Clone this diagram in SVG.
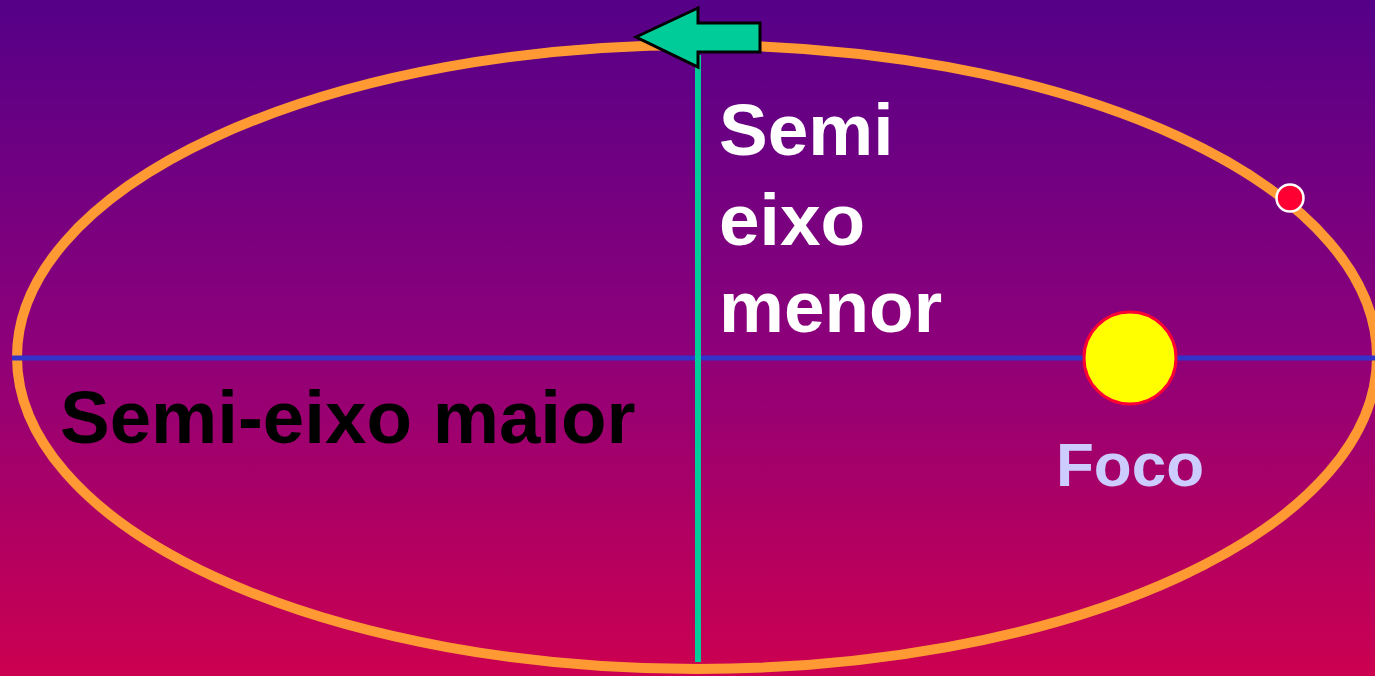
<svg xmlns="http://www.w3.org/2000/svg" width="1375" height="676" viewBox="0 0 1375 676">
  <defs>
    <linearGradient id="bg" x1="0" y1="0" x2="0" y2="1">
      <stop offset="0" stop-color="#550088"/>
      <stop offset="0.5" stop-color="#8C007A"/>
      <stop offset="1" stop-color="#CC0050"/>
    </linearGradient>
    <style>
      .lbl { font-family: "Liberation Sans", Arial, sans-serif; font-weight: bold; }
    </style>
  </defs>
  <rect x="0" y="0" width="1375" height="676" fill="url(#bg)"/>
  <g id="orbit">
    <ellipse cx="697" cy="357" rx="680" ry="312" fill="none" stroke="#FF9933" stroke-width="10"/>
  </g>
  <g id="connectors">
    <line x1="12" y1="358" x2="1375" y2="358" stroke="#3333CC" stroke-width="5"/>
    <line x1="698" y1="55" x2="698" y2="662" stroke="#00CC99" stroke-width="6"/>
  </g>
  <g id="sun">
    <circle cx="1130" cy="358" r="46" fill="#FFFF00" stroke="#FF0033" stroke-width="3"/>
  </g>
  <g id="planet">
    <circle cx="1290" cy="198" r="13.5" fill="#FF0033" stroke="#FFFFFF" stroke-width="2.5"/>
  </g>
  <g id="arrow">
    <polygon points="636,37 698,8 698,23 760,23 760,52 698,52 698,67" fill="#00CC99" stroke="#000000" stroke-width="3" stroke-linejoin="miter"/>
  </g>
  <g id="label-minor">
    <text class="lbl" x="719" y="155" font-size="73" fill="#FFFFFF">Semi</text>
    <text class="lbl" x="719" y="245" font-size="73" fill="#FFFFFF">eixo</text>
    <text class="lbl" x="719" y="332" font-size="73" fill="#FFFFFF">menor</text>
  </g>
  <g id="label-major">
    <text class="lbl" x="60" y="443" font-size="74.5" fill="#000000">Semi-eixo maior</text>
  </g>
  <g id="label-focus">
    <text class="lbl" x="1056" y="486" font-size="62" fill="#CCCCFF">Foco</text>
  </g>
</svg>
